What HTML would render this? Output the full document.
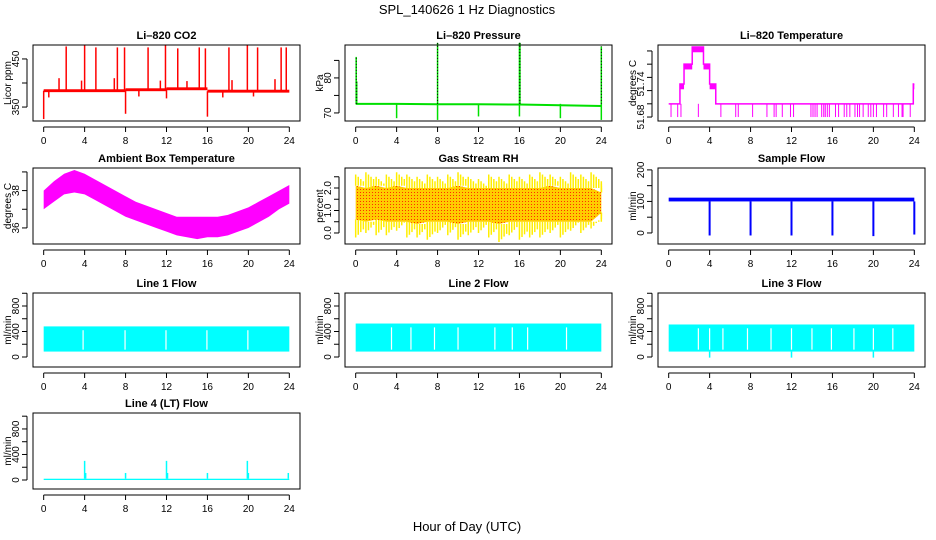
<!DOCTYPE html>
<html><head><meta charset="utf-8"><style>
body{margin:0;background:#fff}
svg{display:block;font-family:"Liberation Sans",sans-serif}
</style></head><body>
<svg id="chart" width="936" height="540" viewBox="0 0 936 540">
<text x="467" y="14" font-size="13" text-anchor="middle">SPL_140626  1 Hz Diagnostics</text>
<text x="467" y="531" font-size="13" text-anchor="middle">Hour of Day (UTC)</text>
</svg>
<script>
// ---------- data arrays ----------
const xTicks=[0,4,8,12,16,20,24];
// CO2
const co2BaseT=[0,8,8,12,12,16,16,24];
const co2BaseV=[384,384,386,386,388,388,383,383];
const co2SpikeT=[2.2,4.0,5.1,7.2,7.9,10.2,11.9,13.1,15.2,15.8,18.1,19.9,20.9,23.2,23.7,1.5,3.7,6.9,11.4,14.0,18.4,22.6,0.0,8.0,16.0,12.0,0.5,9.3,17.5,20.5];
const co2SpikeV=[476,478,474,474,474,474,478,472,474,472,474,478,474,474,474,410,405,410,405,404,406,408,325,336,330,368,370,372,370,372];
// Pressure
const presT=[0,4,8,12,16,20,24];
const presV=[72.6,72.6,72.5,72.5,72.4,72.2,72.0];
const presSpikeT=[0.05,0.1,8.0,16.0,16.05,24.0];
const presSpikeV=[86,79,90,90,90,89];
const presDipT=[4,8,12,16,20,24];
const presDipV=[68.5,68,69,69,68.5,68];
// Li-820 temperature (step levels)
const tempStepT=[0,1.1,1.5,2.3,3.4,4.0,4.6,23.9,24];
const tempStepV=[51.69,51.705,51.72,51.733,51.72,51.705,51.69,51.705,51.705];
const tempDipT=[0.23,0.88,1.2,2.9,5.1,6.55,6.8,8.2,9.6,10.3,10.5,11.1,11.9,12.2,13.9,14.1,14.3,14.5,14.95,15.15,15.3,15.5,15.7,16.3,16.6,17.15,17.4,17.7,18.2,18.45,18.65,19.0,19.5,19.75,20.0,20.3,21.0,21.3,21.95,22.45,22.8,22.9,23.6];
// Ambient box temperature (hourly envelope)
const ambT=[0,1,2,3,4,5,6,7,8,9,10,11,12,13,14,15,16,17,18,19,20,21,22,23,24];
const ambHi=[38.0,38.5,38.9,39.1,38.9,38.6,38.3,38.0,37.7,37.4,37.2,37.0,36.8,36.6,36.6,36.6,36.6,36.6,36.7,36.9,37.1,37.4,37.7,38.0,38.3];
const ambLo=[37.0,37.4,37.8,37.9,37.8,37.5,37.2,36.9,36.6,36.4,36.2,36.0,35.8,35.6,35.5,35.4,35.5,35.5,35.6,35.8,36.0,36.3,36.6,37.0,37.3];
// Gas stream RH
const rhT=[0,1,2,3,4,5,6,7,8,9,10,11,12,13,14,15,16,17,18,19,20,21,22,23,24];
const rhHi=[2.6,2.7,2.5,2.6,2.7,2.6,2.5,2.6,2.5,2.6,2.7,2.5,2.4,2.6,2.5,2.6,2.5,2.6,2.7,2.6,2.5,2.7,2.6,2.7,2.3];
const rhLo=[-0.2,0.0,-0.1,-0.1,0.1,-0.2,-0.2,-0.3,0.0,-0.1,-0.3,-0.1,0.0,-0.2,-0.4,-0.1,-0.3,-0.2,-0.2,0.0,-0.2,0.1,0.0,0.2,0.5];
const rhCoreHi=[2.1,2.0,2.1,2.0,2.1,2.0,2.0,2.0,2.0,2.0,2.1,2.0,2.0,2.0,2.0,2.0,2.0,2.0,2.0,2.1,2.0,2.0,2.0,2.0,1.8];
const rhCoreLo=[0.6,0.5,0.6,0.5,0.5,0.5,0.4,0.5,0.5,0.5,0.4,0.5,0.5,0.5,0.4,0.5,0.5,0.5,0.5,0.5,0.5,0.5,0.5,0.5,0.9];
// Sample flow
const sfBaseLo=100, sfBaseHi=112;
const sfDipT=[4,8,12,16,20,24];
const sfDipV=[-8,-8,-8,-8,-10,-5];
// Line flows
const l1Top=480, l1Bot=85, l1GapT=[3.85,7.95,11.95,15.95,19.95];
const l2Top=525, l2Bot=85, l2GapT=[3.5,5.4,7.7,10.0,13.6,15.3,16.8,20.6];
const l3Top=510, l3Bot=85, l3GapT=[2.9,4.0,5.3,7.7,10.0,12.0,14.0,15.9,18.1,20.0,21.9];
const l3DipT=[4.0,12.0,20.0];
const l3DipV=[-10,-10,-10];
const l4Base=[0,20];
const l4SpikeT=[4.0,4.1,8.0,12.0,12.1,16.0,19.9,20.0,23.9];
const l4SpikeV=[300,110,110,300,110,110,300,110,110];

// ---------- panels ----------
const NS='http://www.w3.org/2000/svg';
const svg=document.getElementById('chart');
function mk(tag,attrs,parent){const e=document.createElementNS(NS,tag);for(const k in attrs)e.setAttribute(k,attrs[k]);(parent||svg).appendChild(e);return e;}
const colX=[33,345,658], W=267;
const rowY=[[45,121],[168,244],[293,367],[413,489]];
const panels=[
 {id:'co2',c:0,r:0,title:'Li\u2013820 CO2',ylab:'Licor ppm',ylim:[321,479],ticks:[350,400,450],labs:[[350,'350'],[450,'450']]},
 {id:'pressure',c:1,r:0,title:'Li\u2013820 Pressure',ylab:'kPa',ylim:[67.7,89.4],ticks:[70,75,80,85],labs:[[70,'70'],[80,'80']]},
 {id:'li-temp',c:2,r:0,title:'Li\u2013820 Temperature',ylab:'degrees C',ylim:[51.677,51.7345],ticks:[51.68,51.69,51.70,51.71,51.72,51.73],labs:[[51.68,'51.68'],[51.705,'51.74']]},
 {id:'ambient',c:0,r:1,title:'Ambient Box Temperature',ylab:'degrees C',ylim:[35.14,39.21],ticks:[36,37,38,39],labs:[[36,'36'],[38,'38']]},
 {id:'rh',c:1,r:1,title:'Gas Stream RH',ylab:'percent',ylim:[-0.49,2.89],ticks:[0,0.5,1,1.5,2,2.5],labs:[[0,'0.0'],[1,'1.0'],[2,'2.0']]},
 {id:'sample-flow',c:2,r:1,title:'Sample Flow',ylab:'ml/min',ylim:[-35,206],ticks:[0,50,100,150,200],labs:[[0,'0'],[100,'100'],[200,'200']]},
 {id:'line1',c:0,r:2,title:'Line 1 Flow',ylab:'ml/min',ylim:[-157,1004],ticks:[0,200,400,600,800,1000],labs:[[0,'0'],[400,'400'],[800,'800']]},
 {id:'line2',c:1,r:2,title:'Line 2 Flow',ylab:'ml/min',ylim:[-157,1004],ticks:[0,200,400,600,800,1000],labs:[[0,'0'],[400,'400'],[800,'800']]},
 {id:'line3',c:2,r:2,title:'Line 3 Flow',ylab:'ml/min',ylim:[-157,1004],ticks:[0,200,400,600,800,1000],labs:[[0,'0'],[400,'400'],[800,'800']]},
 {id:'line4',c:0,r:3,title:'Line 4 (LT) Flow',ylab:'ml/min',ylim:[-141,1050],ticks:[0,200,400,600,800,1000],labs:[[0,'0'],[400,'400'],[800,'800']]}
];
const P={};
panels.forEach(p=>{
 const L=colX[p.c], R=L+W, T=rowY[p.r][0], B=rowY[p.r][1];
 const pad=W*0.04;
 p.x=v=>L+pad+(v/24)*(W-2*pad);
 p.y=v=>B-(v-p.ylim[0])/(p.ylim[1]-p.ylim[0])*(B-T);
 p.g=mk('g',{});
 
 
 p.L=L;p.R=R;p.T=T;p.B=B;
 P[p.id]=p;
});
function line(p,x1,y1,x2,y2,col,w,dash){const e=mk('line',{x1:x1,y1:y1,x2:x2,y2:y2,stroke:col,'stroke-width':w||1},p.g);if(dash)e.setAttribute('stroke-dasharray',dash);return e;}
function band(p,ts,hi,lo,col){let d='M'+ts.map((t,i)=>p.x(t)+','+p.y(hi[i])).join('L');for(let i=ts.length-1;i>=0;i--)d+='L'+p.x(ts[i])+','+p.y(lo[i]);return mk('path',{d:d+'Z',fill:col},p.g);}
function rect(p,t0,t1,v0,v1,col){return mk('rect',{x:p.x(t0),y:p.y(v1),width:p.x(t1)-p.x(t0),height:p.y(v0)-p.y(v1),fill:col},p.g);}

// CO2
(function(){const p=P.co2,c='#ff0000';
 for(let i=0;i<co2BaseT.length;i+=2){rect(p,co2BaseT[i],co2BaseT[i+1],co2BaseV[i]-3,co2BaseV[i]+3,c);}
 co2SpikeT.forEach((t,i)=>{const base=t<8?384:t<12?386:t<16?388:383;const e=line(p,p.x(t),p.y(base),p.x(t),p.y(co2SpikeV[i]),c,1.5);});
})();
// Pressure
(function(){const p=P.pressure,c='#00e000';
 mk('polyline',{points:presT.map((t,i)=>p.x(t)+','+p.y(presV[i])).join(' '),fill:'none',stroke:c,'stroke-width':2},p.g);
 presSpikeT.forEach((t,i)=>{line(p,p.x(t),p.y(72.6),p.x(t),p.y(presSpikeV[i]),c,1.5);line(p,p.x(t),p.y(72.6),p.x(t),p.y(presSpikeV[i]),'#000',1,'1,2');});
 presDipT.forEach((t,i)=>{line(p,p.x(t),p.y(72.6),p.x(t),p.y(presDipV[i]),c,1.5);});
})();
// Li temp
(function(){const p=P['li-temp'],c='#ff00ff';
 let d='';tempStepT.forEach((t,i)=>{d+=(i?'L'+p.x(t)+','+p.y(tempStepV[i-1])+'L':'M')+p.x(t)+','+p.y(tempStepV[i]);});
 mk('path',{d:d,fill:'none',stroke:c,'stroke-width':1.5},p.g);
 for(let i=0;i<tempStepT.length-1;i++){if(tempStepV[i]>51.69)rect(p,tempStepT[i],tempStepT[i+1],tempStepV[i]-0.004,tempStepV[i],c);}
 tempDipT.forEach(t=>{line(p,p.x(t),p.y(51.69),p.x(t),p.y(51.68),c,1);});
})();
// Ambient
band(P.ambient,ambT,ambHi,ambLo,'#ff00ff');
// RH
(function(){const p=P.rh;
 band(p,rhT,rhCoreHi,rhCoreLo,'#ffcc00');
 rhT.forEach((t,i)=>{for(let k=0;k<4;k++){const tt=Math.min(24,t+k*0.25);line(p,p.x(tt),p.y(rhCoreHi[i]),p.x(tt),p.y(rhHi[i]-k*0.1),'#ffee00',1.5);line(p,p.x(tt),p.y(rhCoreLo[i]),p.x(tt),p.y(rhLo[i]+k*0.12),'#ffee00',1.5);}});
 const pat=mk('pattern',{id:'rhdots',width:3,height:3,patternUnits:'userSpaceOnUse'},mk('defs',{},p.g));
 mk('rect',{x:0,y:0,width:1,height:1,fill:'#ff3000'},pat);
 band(p,rhT,rhCoreHi,rhCoreLo,'url(#rhdots)');
})();
// Sample flow
(function(){const p=P['sample-flow'],c='#0000ff';
 rect(p,0,24,sfBaseLo,sfBaseHi,c);
 sfDipT.forEach((t,i)=>{line(p,p.x(t),p.y(sfBaseLo),p.x(t),p.y(sfDipV[i]),c,2);});
})();
// Line flows
function flow(p,top,bot,gaps){const c='#00ffff';rect(p,0,24,bot,top,c);gaps.forEach(t=>{line(p,p.x(t),p.y(top-60),p.x(t),p.y(bot+30),'#fff',1.2);});}
flow(P.line1,l1Top,l1Bot,l1GapT);
flow(P.line2,l2Top,l2Bot,l2GapT);
flow(P.line3,l3Top,l3Bot,l3GapT);
l3DipT.forEach((t,i)=>{const p=P.line3;line(p,p.x(t),p.y(l3Bot),p.x(t),p.y(l3DipV[i]),'#00ffff',1.5);});
(function(){const p=P.line4,c='#00ffff';rect(p,0,24,l4Base[0],l4Base[1],c);
 l4SpikeT.forEach((t,i)=>{line(p,p.x(t),p.y(l4Base[1]),p.x(t),p.y(l4SpikeV[i]),c,1.5);});})();

// axes
panels.forEach(p=>{
 const ax=mk('g',{});
 
 
 mk('rect',{x:p.L,y:p.T,width:W,height:p.B-p.T,fill:'none',stroke:'#000','stroke-width':1},ax);
 const t=mk('text',{x:(p.L+p.R)/2,y:p.T-6,'font-size':11,'font-weight':'bold','text-anchor':'middle'},ax);t.textContent=p.title;
 
 
 mk('line',{x1:p.x(0),y1:p.B+6,x2:p.x(24),y2:p.B+6,stroke:'#000'},ax);
 xTicks.forEach(v=>{mk('line',{x1:p.x(v),y1:p.B+6,x2:p.x(v),y2:p.B+11,stroke:'#000'},ax);
   const l=mk('text',{x:p.x(v),y:p.B+23,'font-size':10,'text-anchor':'middle'},ax);l.textContent=v;});
 const ax0=p.L-6;
 mk('line',{x1:ax0,y1:p.y(p.ticks[0]),x2:ax0,y2:p.y(p.ticks[p.ticks.length-1]),stroke:'#000'},ax);
 p.ticks.forEach(v=>{mk('line',{x1:ax0,y1:p.y(v),x2:ax0-5,y2:p.y(v),stroke:'#000'},ax);});
 p.labs.forEach(([v,s])=>{const y=p.y(v),x=ax0-8;const l=mk('text',{x:x,y:y,'font-size':10,'text-anchor':'middle',transform:'rotate(-90 '+x+' '+y+')'},ax);l.textContent=s;});
 const yx=p.L-22,yy=(p.T+p.B)/2;
 const yl=mk('text',{x:yx,y:yy,'font-size':10,'text-anchor':'middle',transform:'rotate(-90 '+yx+' '+yy+')'},ax);yl.textContent=p.ylab;
 
 
});
</script>
</body></html>
